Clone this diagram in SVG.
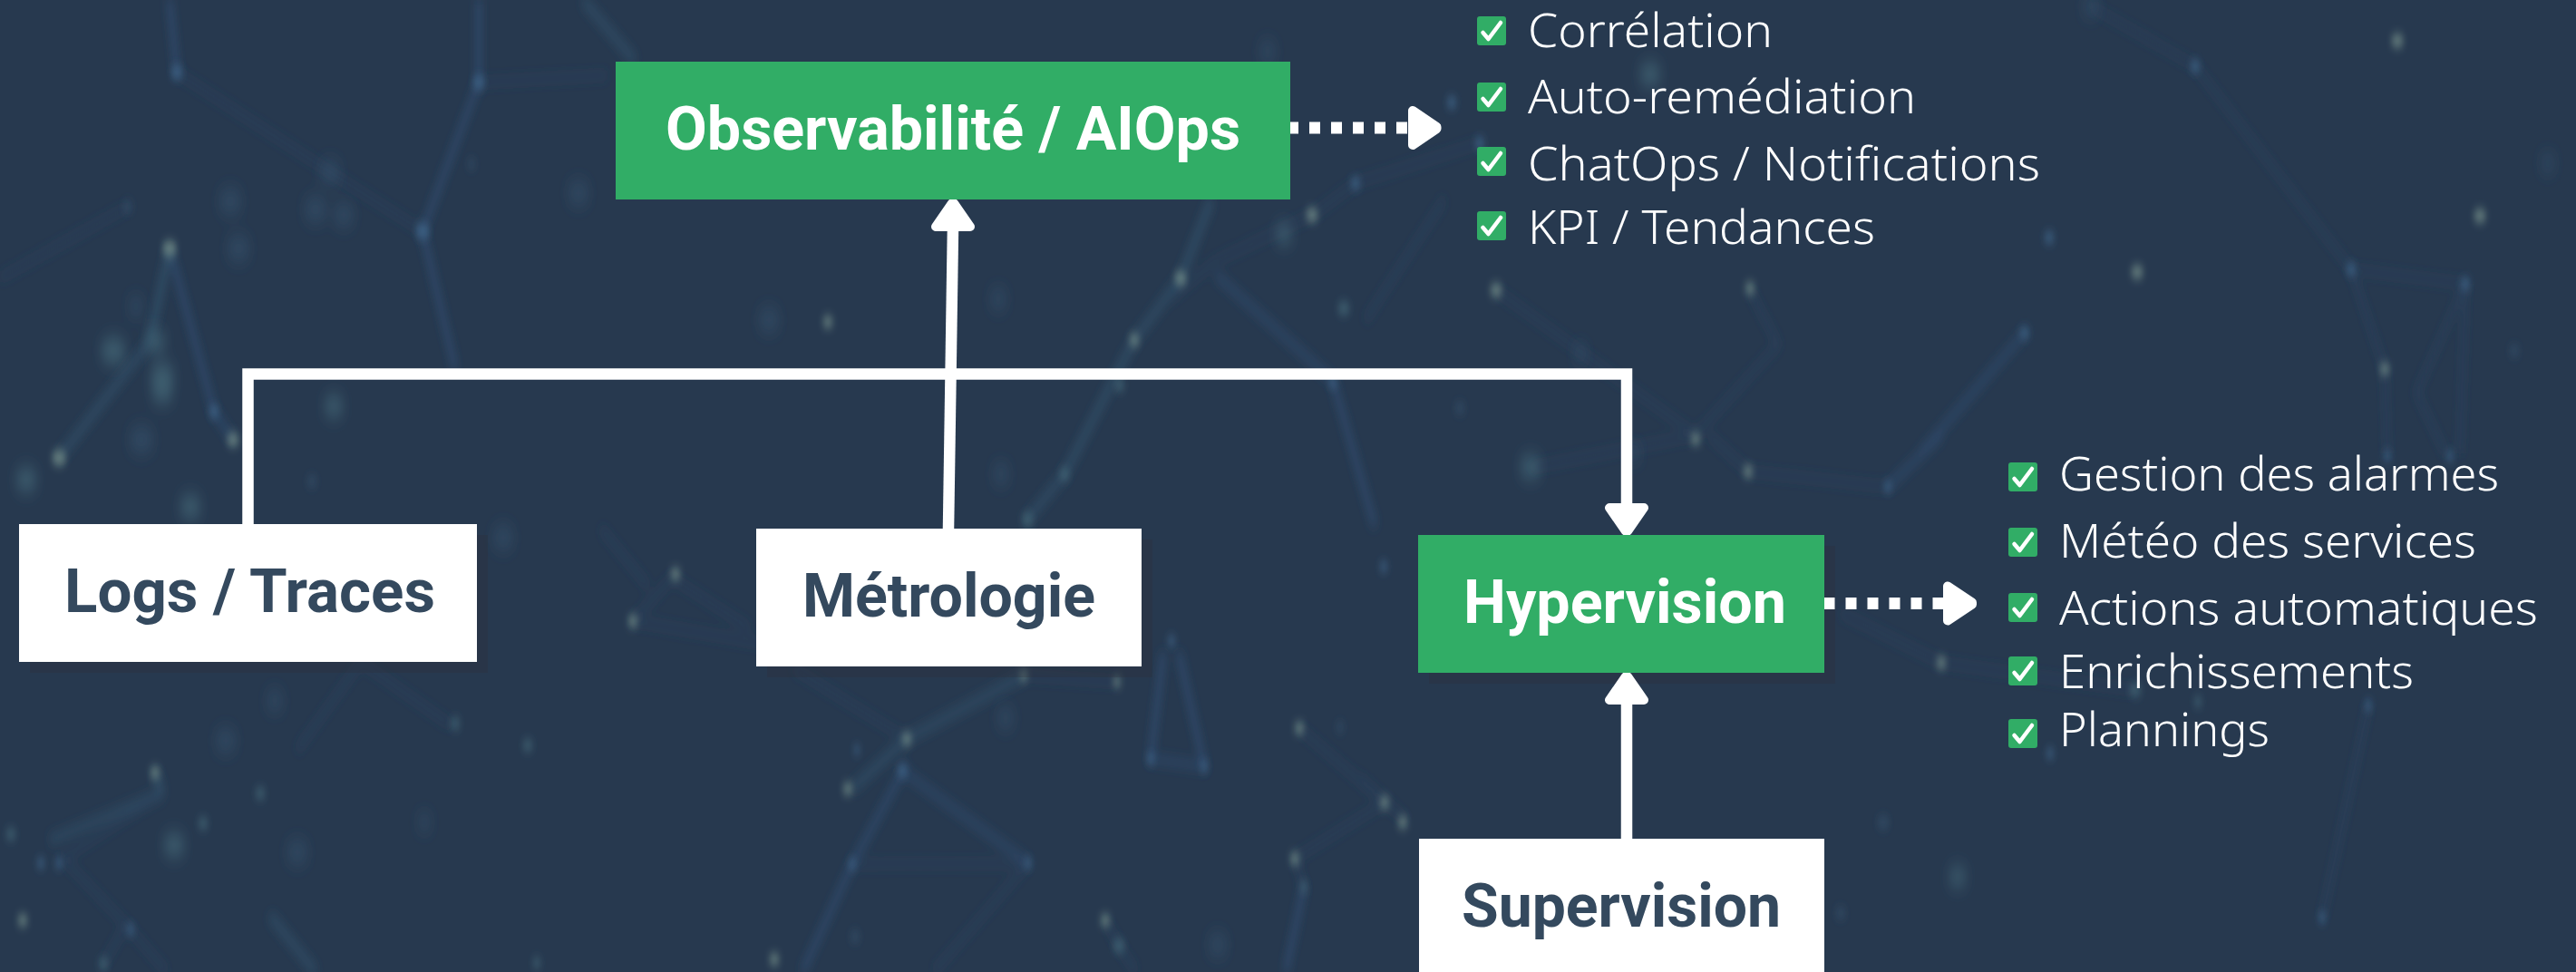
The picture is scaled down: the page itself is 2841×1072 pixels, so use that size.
<svg xmlns="http://www.w3.org/2000/svg" width="2841" height="1072" viewBox="0 0 2841 1072">
<defs>
<style>
.lbl{font-family:Roboto,"Liberation Sans",sans-serif;font-weight:700;font-size:67px}
.dark{fill:#34495e}.lite{fill:#fff}
.g{fill:#31ad66}.w{fill:#fff}
.sh{fill:#2e2f38;opacity:.3}
.item{font-family:"Noto Sans","Open Sans",sans-serif;font-weight:300;font-size:51px;fill:#fff}
.cb{fill:#31ad66}
.ck{fill:none;stroke:#fff;stroke-width:4.500;stroke-linecap:round;stroke-linejoin:round}
.c{fill:none;stroke:#fff;stroke-width:12.500}
.d{fill:none;stroke:#fff;stroke-width:13;stroke-dasharray:12 12}
.h{fill:#fff;stroke:#fff;stroke-width:10;stroke-linejoin:round}
.lb{fill:none;stroke:#31547c;stroke-width:7;opacity:.6}
.lt{fill:none;stroke:#335a72;stroke-width:9;opacity:.55}
.lf{fill:none;stroke:#30486a;stroke-width:6;opacity:.42}
.ng{fill:#7f9a90;opacity:.7}
.nt{fill:#4f7b88;opacity:.55}
.nb{fill:#41688f;opacity:.75}
.nf{fill:#3c5c77;opacity:.45}
</style>
<filter id="b0" x="-5%" y="-5%" width="110%" height="110%"><feGaussianBlur stdDeviation="4 7"/></filter>
<filter id="b1" x="-5%" y="-5%" width="110%" height="110%"><feGaussianBlur stdDeviation="3 6"/></filter>
<filter id="b2" x="-5%" y="-5%" width="110%" height="110%"><feGaussianBlur stdDeviation="6 10"/></filter>
<symbol id="box" viewBox="0 0 32 32" width="32" height="32"><rect width="32" height="32" rx="3" class="cb"/><path d="M6.500 18L12.500 25L26 7" class="ck"/></symbol>
</defs>
<rect id="bg" width="2841" height="1072" fill="#27394f"/>
<g id="background-lines" filter="url(#b0)">
<path class="lb" d="M187 0L195 80M528 0L528 91L466 255L502 407M1000 843L940 953L885 1072M995 850L1134 952M2233 367L2118 500M1341 303L1470 420L1516 580M187 274L236 454L257 485M2082 537L2141 480M1283 720L1269 837L1328 845L1300 720M1438 978L1418 1072"/>
<path class="lt" d="M179 875L55 927M179 875L171 852M1336 220L1302 307L1251 375L1174 523L1133 573M643 0L700 67M298 1010L348 1072M1129 745L1000 815L940 870M187 274L165 377L65 505"/>
<path class="lf" d="M195 80L364 190L466 255M528 91L670 83M141 228L0 307M663 583L715 647M745 633L698 685L861 713M745 640L827 693M179 875L70 947L139 1020L184 1072M139 1020L114 1063M398 730L328 827M398 730L497 800M875 737L1000 815M1134 952L1030 1072M940 953L1134 952M1129 745L1232 752M1433 803L1527 885L1428 947L1438 978M1219 1015L1234 1043L1253 1072M1447 237L1341 288L1290 330M1593 220L1506 353M2306 7L2421 73L2593 297L2719 313M2593 297L2630 407L2633 500M2719 313L2665 433L2697 500M2719 313L2713 500M1928 520L1885 480M1928 520L2082 537M2030 676L2141 731L2355 761M1500 858L1551 905M2612 778L2561 1012M1632 158L1495 202L1447 238M1930 320L1961 380L1870 480L1650 320M1870 480L1688 516"/>
</g>
<g id="background-glow" filter="url(#b2)">
<g class="nf"><circle cx="364" cy="190" r="12"/><circle cx="254" cy="222" r="13"/><circle cx="348" cy="231" r="13"/><circle cx="379" cy="237" r="12"/><circle cx="638" cy="213" r="12"/><circle cx="263" cy="274" r="13"/><circle cx="156" cy="485" r="14"/><circle cx="150" cy="338" r="9"/><circle cx="848" cy="353" r="12"/><circle cx="555" cy="593" r="12"/><circle cx="249" cy="817" r="12"/><circle cx="303" cy="773" r="10"/><circle cx="1101" cy="330" r="10"/><circle cx="1104" cy="523" r="10"/><circle cx="1743" cy="390" r="8"/><circle cx="1802" cy="500" r="8"/><circle cx="1109" cy="792" r="10"/><circle cx="328" cy="940" r="12"/><circle cx="1343" cy="1042" r="11"/><circle cx="468" cy="907" r="8"/><circle cx="1398" cy="57" r="10"/><circle cx="2810" cy="180" r="9"/><circle cx="2306" cy="7" r="10"/></g>
<g class="nt"><circle cx="125" cy="387" r="14"/><circle cx="172" cy="377" r="11"/><circle cx="179" cy="414" r="13"/><circle cx="179" cy="432" r="12"/><circle cx="29" cy="529" r="12"/><circle cx="210" cy="559" r="12"/><circle cx="368" cy="448" r="11"/><circle cx="192" cy="932" r="12"/><circle cx="1820" cy="82" r="12"/><circle cx="1688" cy="515" r="12"/><circle cx="2159" cy="967" r="10"/><circle cx="1416" cy="258" r="10"/></g>
</g>
<g id="background-nodes" filter="url(#b1)">
<g class="ng"><circle cx="187" cy="274" r="8"/><circle cx="257" cy="485" r="7"/><circle cx="65" cy="505" r="8"/><circle cx="913" cy="355" r="6"/><circle cx="1251" cy="375" r="6"/><circle cx="745" cy="633" r="6"/><circle cx="698" cy="685" r="6"/><circle cx="1129" cy="745" r="5"/><circle cx="1232" cy="752" r="5"/><circle cx="1000" cy="815" r="6"/><circle cx="935" cy="870" r="6"/><circle cx="1433" cy="803" r="6"/><circle cx="1527" cy="885" r="6"/><circle cx="1547" cy="907" r="6"/><circle cx="1428" cy="947" r="6"/><circle cx="1219" cy="1015" r="6"/><circle cx="854" cy="1058" r="6"/><circle cx="171" cy="852" r="6"/><circle cx="25" cy="1015" r="6"/><circle cx="1447" cy="237" r="7"/><circle cx="1302" cy="307" r="7"/><circle cx="1650" cy="320" r="7"/><circle cx="1930" cy="318" r="6"/><circle cx="1870" cy="484" r="6"/><circle cx="1928" cy="520" r="6"/><circle cx="2141" cy="731" r="6"/><circle cx="2644" cy="45" r="7"/><circle cx="2357" cy="300" r="7"/><circle cx="2735" cy="238" r="7"/><circle cx="2630" cy="407" r="6"/></g>
<g class="nt"><circle cx="287" cy="875" r="6"/><circle cx="224" cy="908" r="6"/><circle cx="12" cy="920" r="6"/><circle cx="502" cy="798" r="6"/><circle cx="582" cy="822" r="6"/><circle cx="114" cy="1063" r="6"/><circle cx="592" cy="1062" r="5"/><circle cx="1174" cy="523" r="6"/><circle cx="1235" cy="425" r="6"/><circle cx="1482" cy="340" r="7"/><circle cx="1438" cy="978" r="5"/><circle cx="1234" cy="1043" r="7"/><circle cx="1133" cy="573" r="7"/><circle cx="2355" cy="761" r="7"/><circle cx="2424" cy="774" r="5"/></g>
<g class="nb"><circle cx="195" cy="80" r="7"/><circle cx="528" cy="91" r="7"/><circle cx="466" cy="255" r="8"/><circle cx="236" cy="454" r="6"/><circle cx="945" cy="827" r="4"/><circle cx="995" cy="850" r="6"/><circle cx="940" cy="953" r="5"/><circle cx="1134" cy="952" r="5"/><circle cx="1269" cy="837" r="5"/><circle cx="1328" cy="845" r="5"/><circle cx="45" cy="952" r="5"/><circle cx="65" cy="952" r="5"/><circle cx="144" cy="1025" r="5"/><circle cx="1601" cy="113" r="6"/><circle cx="1632" cy="158" r="6"/><circle cx="1495" cy="202" r="6"/><circle cx="1470" cy="422" r="5"/><circle cx="2421" cy="73" r="6"/><circle cx="2260" cy="262" r="6"/><circle cx="2593" cy="297" r="6"/><circle cx="2719" cy="313" r="6"/><circle cx="2233" cy="367" r="6"/><circle cx="2082" cy="537" r="5"/><circle cx="1526" cy="625" r="5"/><circle cx="2261" cy="831" r="5"/><circle cx="2612" cy="778" r="5"/><circle cx="2561" cy="1012" r="5"/><circle cx="2702" cy="503" r="5"/><circle cx="2633" cy="503" r="5"/><circle cx="1292" cy="707" r="5"/></g>
<g class="nf"><circle cx="141" cy="228" r="6"/><circle cx="520" cy="181" r="5"/><circle cx="344" cy="531" r="6"/><circle cx="1610" cy="450" r="6"/><circle cx="2773" cy="387" r="6"/><circle cx="943" cy="1033" r="6"/><circle cx="1478" cy="802" r="5"/><circle cx="2030" cy="1007" r="6"/><circle cx="2077" cy="907" r="7"/></g>
</g>
<g id="node-shadows"><rect class="sh" x="33" y="590" width="505" height="152"/><rect class="sh" x="846" y="595" width="425" height="152"/><rect class="sh" x="1576" y="602" width="448" height="152"/></g>
<g id="connectors">
<path class="c" d="M273.500 578V412.500H1794V560"/>
<path class="h" d="M1775 560H1813L1795 586H1793Z"/>
<path class="c" d="M1046 583L1051 250"/>
<path class="h" d="M1032 250H1070L1052 224H1050Z"/>
<path class="c" d="M1794 925V772"/>
<path class="h" d="M1775 772H1813L1795 746H1793Z"/>
<path class="d" d="M1420 141H1555"/>
<path class="h" d="M1558 122V160L1584.500 142V140Z"/>
<path class="d" d="M2011.500 665.500H2146"/>
<path class="h" d="M2148 646.500V684.500L2175 666.500V664.500Z"/>
</g>
<g id="node-observabilite"><rect class="g" x="679" y="68" width="744" height="152"/><text class="lbl lite" x="734" y="165" textLength="634" lengthAdjust="spacingAndGlyphs">Observabilité / AIOps</text></g>
<g id="node-logs"><rect class="w" x="21" y="578" width="505" height="152"/><text class="lbl dark" x="71" y="675" textLength="409" lengthAdjust="spacingAndGlyphs">Logs / Traces</text></g>
<g id="node-metrologie"><rect class="w" x="834" y="583" width="425" height="152"/><text class="lbl dark" x="885" y="680" textLength="323" lengthAdjust="spacingAndGlyphs">Métrologie</text></g>
<g id="node-hypervision"><rect class="g" x="1564" y="590" width="448" height="152"/><text class="lbl lite" x="1614" y="687" textLength="356" lengthAdjust="spacingAndGlyphs">Hypervision</text></g>
<g id="node-supervision"><rect class="w" x="1565" y="925" width="447" height="152"/><text class="lbl dark" x="1612" y="1022" textLength="352" lengthAdjust="spacingAndGlyphs">Supervision</text></g>
<g id="list-aiops">
<use href="#box" x="1629" y="18"/><text class="item" x="1685" y="52" textLength="270" lengthAdjust="spacingAndGlyphs">Corrélation</text>
<use href="#box" x="1629" y="91"/><text class="item" x="1685" y="125" textLength="428" lengthAdjust="spacingAndGlyphs">Auto-remédiation</text>
<use href="#box" x="1629" y="162"/><text class="item" x="1685" y="199" textLength="565" lengthAdjust="spacingAndGlyphs">ChatOps / Notifications</text>
<use href="#box" x="1629" y="233"/><text class="item" x="1685" y="269" textLength="383" lengthAdjust="spacingAndGlyphs">KPI / Tendances</text>
</g>
<g id="list-hypervision">
<use href="#box" x="2215" y="510"/><text class="item" x="2271" y="541" textLength="485" lengthAdjust="spacingAndGlyphs">Gestion des alarmes</text>
<use href="#box" x="2215" y="582"/><text class="item" x="2271" y="615" textLength="460" lengthAdjust="spacingAndGlyphs">Météo des services</text>
<use href="#box" x="2215" y="654"/><text class="item" x="2271" y="689" textLength="528" lengthAdjust="spacingAndGlyphs">Actions automatiques</text>
<use href="#box" x="2215" y="724"/><text class="item" x="2271" y="759" textLength="391" lengthAdjust="spacingAndGlyphs">Enrichissements</text>
<use href="#box" x="2215" y="793"/><text class="item" x="2271" y="823" textLength="232" lengthAdjust="spacingAndGlyphs">Plannings</text>
</g>
</svg>
